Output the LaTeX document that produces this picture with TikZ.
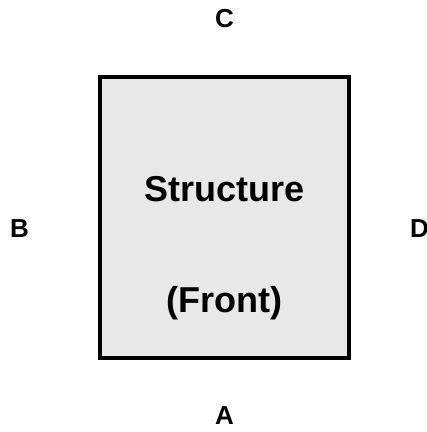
\documentclass[tikz,border=0pt]{standalone}
\usepackage{fontspec}
\setmainfont{Liberation Sans}
\usepackage{tikz}
\definecolor{boxgray}{HTML}{E8E8E8}

\begin{document}
\begin{tikzpicture}[x=1pt,y=1pt,
    side/.style={font=\fontsize{26}{30}\selectfont\bfseries,anchor=base,inner sep=0pt},
    title/.style={font=\fontsize{36}{42}\selectfont\bfseries,anchor=base,inner sep=0pt}]
      \useasboundingbox (0,0) rectangle (427,432);
      \draw[line width=4pt,fill=boxgray] (100,74) rectangle (349,355);
      \node[title] (struct) at (224.5,230) {Structure};
      \node[title] (front) at (224.5,119) {(Front)};

      \node[side] (c) at (224.5,404) {C};
      \node[side] (a) at (224.5,8) {A};
      \node[side,anchor=base west] (b) at (10,194) {B};
      \node[side,anchor=base west] (d) at (410,194) {D};
    \end{tikzpicture}
\end{document}
